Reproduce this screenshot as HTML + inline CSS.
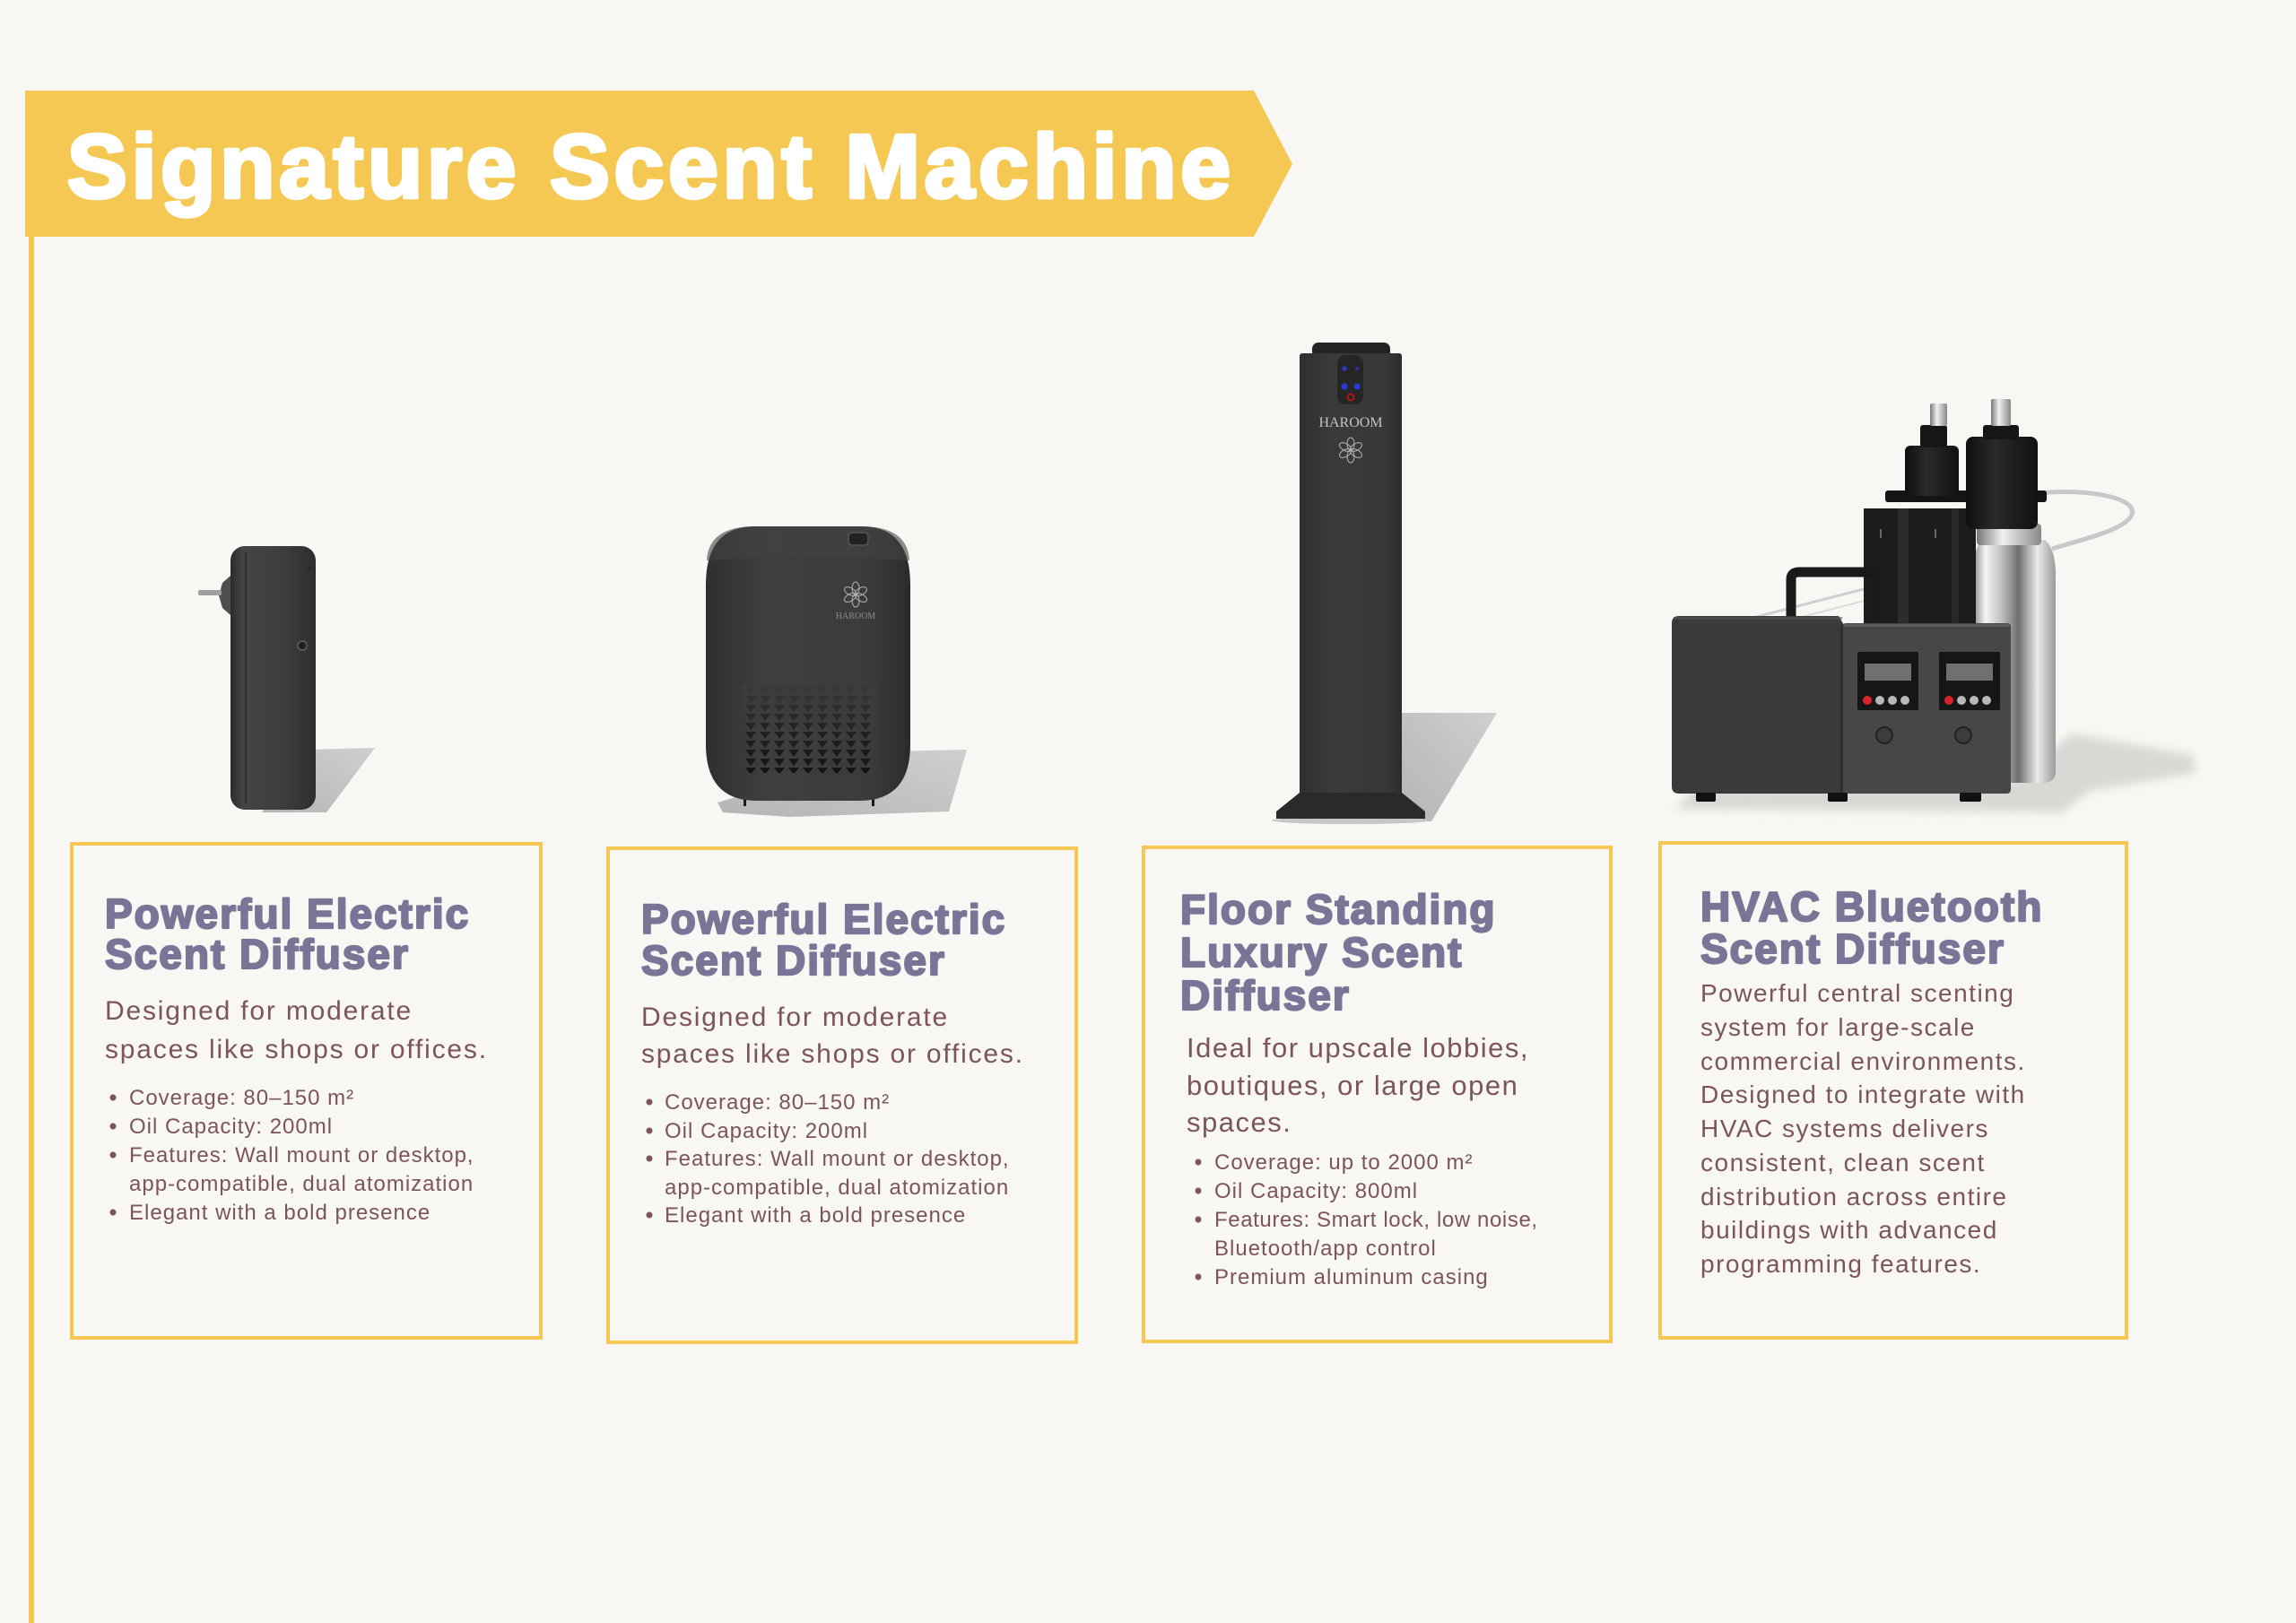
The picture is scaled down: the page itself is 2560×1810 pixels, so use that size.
<!DOCTYPE html>
<html>
<head>
<meta charset="utf-8">
<style>
html,body{margin:0;padding:0;background:#f9f7f3;}
svg{display:block;}
</style>
</head>
<body>
<svg width="2560" height="1810" viewBox="0 0 2560 1810" xmlns="http://www.w3.org/2000/svg">
<defs>
  <linearGradient id="body1" x1="0" x2="1" y1="0" y2="0">
    <stop offset="0" stop-color="#2c2c2c"/><stop offset=".15" stop-color="#444"/>
    <stop offset=".6" stop-color="#3e3e3e"/><stop offset="1" stop-color="#2e2e2e"/>
  </linearGradient>
  <linearGradient id="body2" x1="0" x2="1" y1="0" y2="0">
    <stop offset="0" stop-color="#2f2f2f"/><stop offset=".3" stop-color="#3f3f3f"/>
    <stop offset=".8" stop-color="#3b3b3b"/><stop offset="1" stop-color="#2b2b2b"/>
  </linearGradient>
  <linearGradient id="body3" x1="0" x2="1" y1="0" y2="0">
    <stop offset="0" stop-color="#2e2e2e"/><stop offset=".3" stop-color="#3a3a3a"/>
    <stop offset=".85" stop-color="#383838"/><stop offset="1" stop-color="#2b2b2b"/>
  </linearGradient>
  <linearGradient id="bottle" x1="0" x2="1" y1="0" y2="0">
    <stop offset="0" stop-color="#8a8a8a"/><stop offset=".15" stop-color="#f5f5f5"/>
    <stop offset=".35" stop-color="#bdbdbd"/><stop offset=".55" stop-color="#6f6f6f"/>
    <stop offset=".78" stop-color="#ececec"/><stop offset="1" stop-color="#9a9a9a"/>
  </linearGradient>
  <linearGradient id="pump" x1="0" x2="1" y1="0" y2="0">
    <stop offset="0" stop-color="#0f0f0f"/><stop offset=".4" stop-color="#2a2a2a"/>
    <stop offset="1" stop-color="#111"/>
  </linearGradient>
  <linearGradient id="chrome" x1="0" x2="1" y1="0" y2="0">
    <stop offset="0" stop-color="#777"/><stop offset=".4" stop-color="#f0f0f0"/>
    <stop offset="1" stop-color="#888"/>
  </linearGradient>
  <linearGradient id="sh" x1="0" x2="1" y1="1" y2="0">
    <stop offset="0" stop-color="#b5b5b5"/><stop offset="1" stop-color="#cfcfcf"/>
  </linearGradient>
  <linearGradient id="ventfade" x1="0" x2="0" y1="0" y2="1">
    <stop offset="0" stop-color="#3c3c3c" stop-opacity=".95"/>
    <stop offset=".5" stop-color="#3c3c3c" stop-opacity=".35"/>
    <stop offset="1" stop-color="#3c3c3c" stop-opacity="0"/>
  </linearGradient>
  <pattern id="tri" x="829" y="765" width="16" height="10" patternUnits="userSpaceOnUse">
    <polygon points="2,1 14,1 8,9" fill="#141414"/>
  </pattern>
  <filter id="blur" x="-10%" y="-30%" width="120%" height="160%"><feGaussianBlur stdDeviation="5"/></filter>
  <g id="flower">
    <ellipse cx="0" cy="-7" rx="4" ry="7" fill="none" stroke="#b5b5b5" stroke-width="1"/>
    <ellipse cx="0" cy="-7" rx="4" ry="7" fill="none" stroke="#b5b5b5" stroke-width="1" transform="rotate(60)"/>
    <ellipse cx="0" cy="-7" rx="4" ry="7" fill="none" stroke="#b5b5b5" stroke-width="1" transform="rotate(120)"/>
    <ellipse cx="0" cy="-7" rx="4" ry="7" fill="none" stroke="#b5b5b5" stroke-width="1" transform="rotate(180)"/>
    <ellipse cx="0" cy="-7" rx="4" ry="7" fill="none" stroke="#b5b5b5" stroke-width="1" transform="rotate(240)"/>
    <ellipse cx="0" cy="-7" rx="4" ry="7" fill="none" stroke="#b5b5b5" stroke-width="1" transform="rotate(300)"/>
  </g>
</defs>

<rect width="2560" height="1810" fill="#f9f7f3"/>

<!-- left rule & banner -->
<rect x="32" y="101" width="6" height="1709" fill="#f4c852"/>
<polygon points="28,101 1398,101 1441,183 1398,264 28,264" fill="#f4c852"/>
<text x="75" y="220" font-family="Liberation Sans, Arial, sans-serif" font-weight="700" font-size="100" fill="#ffffff" stroke="#ffffff" stroke-width="4.5" stroke-linejoin="round" letter-spacing="4.9">Signature Scent Machine</text>

<!-- ===== Product 1: wall plug diffuser ===== -->
<g>
  <polygon points="345,836 418,834 364,906 292,906" fill="url(#sh)"/>
  <polygon points="257,642 248,650 244,664 248,678 257,686" fill="#4e4e4e"/>
  <rect x="221" y="658" width="26" height="6" rx="2" fill="#a0a0a0"/>
  <rect x="257" y="609" width="95" height="294" rx="16" fill="url(#body1)"/>
  <rect x="273" y="616" width="2" height="280" fill="#272727" opacity=".7"/>
  <circle cx="337" cy="720" r="5" fill="#1e1e1e" stroke="#555" stroke-width="2"/>
  <circle cx="345" cy="634" r="1.2" fill="#222"/>
</g>

<!-- ===== Product 2: desktop diffuser ===== -->
<g>
  <polygon points="990,838 1078,836 1058,905 880,911 806,906 800,895" fill="url(#sh)"/>
  <rect x="829" y="889" width="3" height="10" fill="#1a1a1a"/>
  <rect x="972" y="889" width="3" height="10" fill="#1a1a1a"/>
  <path d="M842,587 H960 Q1015,587 1015,652 V830 Q1015,893 958,893 H844 Q787,893 787,830 V652 Q787,587 842,587 Z" fill="url(#body2)"/>
  <path d="M842,587 H960 Q1012,587 1014,625 Q900,618 788,625 Q790,587 842,587 Z" fill="#434343" opacity=".6"/>
  <rect x="946" y="594" width="22" height="14" rx="4" fill="#222" stroke="#555" stroke-width="1.5"/>
  <use href="#flower" x="954" y="663"/>
  <text x="954" y="690" text-anchor="middle" font-family="Liberation Serif, serif" font-size="10" fill="#8c8c8c">HAROOM</text>
  <rect x="829" y="765" width="146" height="97" fill="url(#tri)"/>
  <rect x="827" y="763" width="150" height="100" fill="url(#ventfade)"/>
</g>

<!-- ===== Product 3: floor tower ===== -->
<g>
  <polygon points="1563,795 1669,795 1596,916 1563,916" fill="url(#sh)"/>
  <ellipse cx="1506" cy="915" rx="88" ry="4" fill="#c6c6c6"/>
  <rect x="1463" y="382" width="87" height="17" rx="7" fill="#232323"/>
  <rect x="1449" y="394" width="114" height="498" rx="3" fill="url(#body3)"/>
  <rect x="1491" y="396" width="29" height="55" rx="9" fill="#262626"/>
  <circle cx="1499" cy="411" r="2.5" fill="#2a3cd8"/>
  <circle cx="1513" cy="411" r="2" fill="#2a3cd8" opacity=".7"/>
  <circle cx="1499" cy="431" r="3.5" fill="#2a3cd8"/>
  <circle cx="1513" cy="431" r="3.5" fill="#2a3cd8"/>
  <circle cx="1506" cy="443" r="3.5" fill="none" stroke="#b0141a" stroke-width="2"/>
  <text x="1506" y="476" text-anchor="middle" font-family="Liberation Serif, serif" font-size="16" fill="#c4c4c4">HAROOM</text>
  <use href="#flower" x="1506" y="502"/>
  <path d="M1449,884 L1563,884 L1589,905 L1589,913 L1423,913 L1423,905 Z" fill="#2a2a2a"/>
</g>

<!-- ===== Product 4: HVAC machine ===== -->
<g>
  <path d="M1868,902 L1895,874 L2250,868 L2310,818 L2445,842 L2448,862 L2330,882 L2300,906 Z" fill="#d8d8d4" filter="url(#blur)"/>
  <path d="M1950,690 L2105,650" stroke="#cfcfcf" stroke-width="3" fill="none"/>
  <path d="M1962,700 L2110,662" stroke="#dadada" stroke-width="2" fill="none"/>
  <!-- bottle -->
  <path d="M2210,602 Q2200,612 2200,642 L2200,860 Q2200,873 2214,873 L2278,873 Q2292,873 2292,860 L2292,642 Q2292,612 2280,602 Z" fill="url(#bottle)"/>
  <rect x="2204" y="584" width="72" height="24" rx="4" fill="url(#chrome)"/>
  <!-- tube -->
  <path d="M2272,550 C2330,544 2388,556 2376,576 C2366,592 2320,602 2288,612" stroke="#c8c8c8" stroke-width="5" fill="none"/>
  <!-- bracket -->
  <rect x="2078" y="567" width="125" height="130" fill="#1c1c1c"/>
  <rect x="2116" y="567" width="12" height="130" fill="#2c2c2c"/>
  <rect x="2176" y="567" width="8" height="130" fill="#282828"/>
  <rect x="2096" y="590" width="2" height="10" fill="#666"/>
  <rect x="2157" y="590" width="2" height="10" fill="#666"/>
  <!-- flange -->
  <rect x="2102" y="547" width="180" height="13" rx="3" fill="#141414"/>
  <!-- pumps -->
  <rect x="2124" y="497" width="60" height="56" rx="6" fill="url(#pump)"/>
  <rect x="2141" y="474" width="30" height="25" rx="3" fill="#161616"/>
  <rect x="2152" y="450" width="19" height="25" rx="2" fill="url(#chrome)"/>
  <rect x="2192" y="487" width="80" height="103" rx="8" fill="url(#pump)"/>
  <rect x="2211" y="474" width="40" height="16" rx="3" fill="#161616"/>
  <rect x="2220" y="445" width="22" height="30" rx="2" fill="url(#chrome)"/>
  <!-- handle -->
  <path d="M1997,692 L1997,646 Q1997,638 2006,638 L2084,638 Q2093,638 2093,646 L2093,692" stroke="#1a1a1a" stroke-width="11" fill="none"/>
  <!-- box -->
  <path d="M1872,687 L2050,687 L2056,697 L2056,885 L1872,885 Q1864,885 1864,877 L1864,695 Q1864,687 1872,687 Z" fill="#3a3a3a"/>
  <rect x="1866" y="688" width="188" height="3" fill="#555" opacity=".6"/>
  <rect x="2054" y="695" width="188" height="190" rx="4" fill="#474747"/>
  <rect x="2056" y="696" width="184" height="3" fill="#5c5c5c"/>
  <rect x="2052" y="697" width="3" height="188" fill="#2e2e2e"/>
  <!-- displays -->
  <rect x="2071" y="727" width="68" height="65" rx="2" fill="#161616"/>
  <rect x="2079" y="740" width="52" height="19" fill="#6e716e"/>
  <circle cx="2082" cy="781" r="5" fill="#d8242a"/>
  <circle cx="2096" cy="781" r="5" fill="#b8b8b8"/>
  <circle cx="2110" cy="781" r="5" fill="#b8b8b8"/>
  <circle cx="2124" cy="781" r="5" fill="#b8b8b8"/>
  <rect x="2162" y="727" width="68" height="65" rx="2" fill="#161616"/>
  <rect x="2170" y="740" width="52" height="19" fill="#6e716e"/>
  <circle cx="2173" cy="781" r="5" fill="#d8242a"/>
  <circle cx="2187" cy="781" r="5" fill="#b8b8b8"/>
  <circle cx="2201" cy="781" r="5" fill="#b8b8b8"/>
  <circle cx="2215" cy="781" r="5" fill="#b8b8b8"/>
  <!-- knobs -->
  <circle cx="2101" cy="820" r="9" fill="#3c3c3c" stroke="#222" stroke-width="2"/>
  <circle cx="2189" cy="820" r="9" fill="#3c3c3c" stroke="#222" stroke-width="2"/>
  <!-- feet -->
  <rect x="1891" y="884" width="22" height="10" rx="2" fill="#111"/>
  <rect x="2038" y="884" width="22" height="10" rx="2" fill="#111"/>
  <rect x="2185" y="884" width="24" height="10" rx="2" fill="#111"/>
</g>

<!-- ===== Cards ===== -->
<g fill="none" stroke="#f4c852" stroke-width="4">
  <rect x="80" y="941" width="523" height="551"/>
  <rect x="678" y="946" width="522" height="551"/>
  <rect x="1275" y="945" width="521" height="551"/>
  <rect x="1851" y="940" width="520" height="552"/>
</g>

<!-- headings -->
<g font-family="Liberation Sans, Arial, sans-serif" font-weight="700" font-size="46" fill="#7b7497" stroke="#7b7497" stroke-width="2.2" stroke-linejoin="round" letter-spacing="2.0">
  <text x="117" y="1035">Powerful Electric</text>
  <text x="117" y="1080">Scent Diffuser</text>
  <text x="715" y="1041">Powerful Electric</text>
  <text x="715" y="1087">Scent Diffuser</text>
  <text x="1316" y="1030">Floor Standing</text>
  <text x="1316" y="1078">Luxury Scent</text>
  <text x="1316" y="1126">Diffuser</text>
  <text x="1896" y="1027">HVAC Bluetooth</text>
  <text x="1896" y="1074">Scent Diffuser</text>
</g>

<!-- descriptions -->
<g font-family="Liberation Sans, Arial, sans-serif" fill="#7b555a">
  <g font-size="30" letter-spacing="1.8">
    <text x="117" y="1137">Designed for moderate</text>
    <text x="117" y="1180">spaces like shops or offices.</text>
    <text x="715" y="1144">Designed for moderate</text>
    <text x="715" y="1185">spaces like shops or offices.</text>
  </g>
  <g font-size="31" letter-spacing="1.5">
    <text x="1323" y="1179">Ideal for upscale lobbies,</text>
    <text x="1323" y="1221">boutiques, or large open</text>
    <text x="1323" y="1262">spaces.</text>
  </g>
  <g font-size="28" letter-spacing="1.5">
    <text x="1896" y="1117">Powerful central scenting</text>
    <text x="1896" y="1155">system for large-scale</text>
    <text x="1896" y="1193">commercial environments.</text>
    <text x="1896" y="1230">Designed to integrate with</text>
    <text x="1896" y="1268">HVAC systems delivers</text>
    <text x="1896" y="1306">consistent, clean scent</text>
    <text x="1896" y="1344">distribution across entire</text>
    <text x="1896" y="1381">buildings with advanced</text>
    <text x="1896" y="1419">programming features.</text>
  </g>

  <!-- bullets -->
  <g font-size="24" letter-spacing="1.0">
    <text x="144" y="1232">Coverage: 80–150 m²</text>
    <text x="144" y="1264">Oil Capacity: 200ml</text>
    <text x="144" y="1296">Features: Wall mount or desktop,</text>
    <text x="144" y="1328">app-compatible, dual atomization</text>
    <text x="144" y="1360">Elegant with a bold presence</text>

    <text x="741" y="1237">Coverage: 80–150 m²</text>
    <text x="741" y="1269">Oil Capacity: 200ml</text>
    <text x="741" y="1300">Features: Wall mount or desktop,</text>
    <text x="741" y="1332">app-compatible, dual atomization</text>
    <text x="741" y="1363">Elegant with a bold presence</text>

    <text x="1354" y="1304">Coverage: up to 2000 m²</text>
    <text x="1354" y="1336">Oil Capacity: 800ml</text>
    <text x="1354" y="1368" letter-spacing="0.6">Features: Smart lock, low noise,</text>
    <text x="1354" y="1400">Bluetooth/app control</text>
    <text x="1354" y="1432">Premium aluminum casing</text>
  </g>
  <g>
    <circle cx="126" cy="1224" r="3.5"/>
    <circle cx="126" cy="1256" r="3.5"/>
    <circle cx="126" cy="1288" r="3.5"/>
    <circle cx="126" cy="1352" r="3.5"/>

    <circle cx="724" cy="1229" r="3.5"/>
    <circle cx="724" cy="1261" r="3.5"/>
    <circle cx="724" cy="1292" r="3.5"/>
    <circle cx="724" cy="1355" r="3.5"/>

    <circle cx="1336" cy="1296" r="3.5"/>
    <circle cx="1336" cy="1328" r="3.5"/>
    <circle cx="1336" cy="1360" r="3.5"/>
    <circle cx="1336" cy="1424" r="3.5"/>
  </g>
</g>
</svg>
</body>
</html>
